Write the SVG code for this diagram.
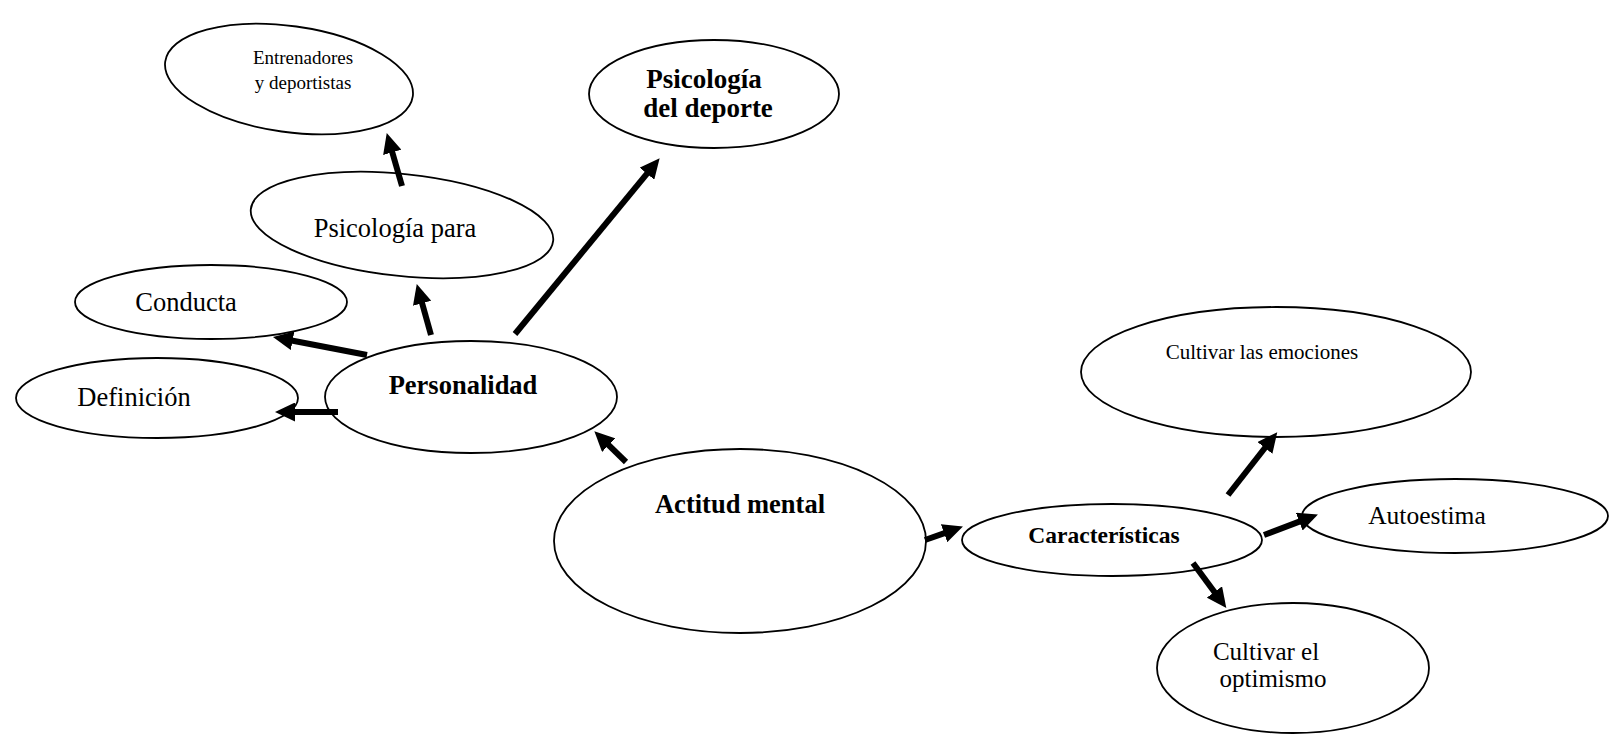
<svg xmlns="http://www.w3.org/2000/svg" width="1613" height="734" viewBox="0 0 1613 734">
  <style>
    .node ellipse { fill: #ffffff; stroke: #000000; stroke-width: 1.8; }
    .node text { font-family: "Liberation Serif", "Times New Roman", serif; fill: #000000; text-anchor: middle; }
    .reg { font-size: 26.5px; }
    .bold { font-size: 26.5px; font-weight: bold; }
    .edge { stroke: #000000; stroke-width: 6; fill: none; marker-end: url(#head); }
  </style>
  <defs>
    <marker id="head" markerUnits="userSpaceOnUse" markerWidth="20" markerHeight="19" refX="5" refY="9.5" orient="auto">
      <path d="M0,0 L20,9.5 L0,19 Z" fill="#000000"/>
    </marker>
  </defs>
  <rect width="1613" height="734" fill="#ffffff"/>

  <g id="n-entrenadores" class="node">
    <ellipse cx="289" cy="79" rx="125" ry="53" transform="rotate(8 289 79)"/>
    <text x="303" y="64" style="font-size:19px">Entrenadores</text>
    <text x="303" y="89" style="font-size:19px">y deportistas</text>
  </g>

  <g id="n-psicologia-deporte" class="node">
    <ellipse cx="714" cy="94" rx="125" ry="54"/>
    <text class="bold" x="704" y="88" style="font-size:27px">Psicología</text>
    <text class="bold" x="708" y="117" style="font-size:27px">del deporte</text>
  </g>

  <g id="n-psicologia-para" class="node">
    <ellipse cx="402" cy="225" rx="152" ry="51" transform="rotate(6 402 225)"/>
    <text class="reg" x="395" y="237">Psicología para</text>
  </g>

  <g id="n-conducta" class="node">
    <ellipse cx="211" cy="302" rx="136" ry="37"/>
    <text class="reg" x="186" y="311">Conducta</text>
  </g>

  <g id="n-definicion" class="node">
    <ellipse cx="157" cy="398" rx="141" ry="40"/>
    <text class="reg" x="134" y="406">Definición</text>
  </g>

  <g id="n-personalidad" class="node">
    <ellipse cx="471" cy="397" rx="146" ry="56"/>
    <text class="bold" x="463" y="394">Personalidad</text>
  </g>

  <g id="n-actitud" class="node">
    <ellipse cx="740" cy="541" rx="186" ry="92"/>
    <text class="bold" x="740" y="513">Actitud mental</text>
  </g>

  <g id="n-caracteristicas" class="node">
    <ellipse cx="1112" cy="540" rx="150" ry="36"/>
    <text class="bold" x="1104" y="543" style="font-size:23.5px">Características</text>
  </g>

  <g id="n-emociones" class="node">
    <ellipse cx="1276" cy="372" rx="195" ry="65"/>
    <text x="1262" y="359" style="font-size:21px">Cultivar las emociones</text>
  </g>

  <g id="n-autoestima" class="node">
    <ellipse cx="1455" cy="516" rx="153" ry="37"/>
    <text x="1427" y="524" style="font-size:25.5px">Autoestima</text>
  </g>

  <g id="n-optimismo" class="node">
    <ellipse cx="1293" cy="668" rx="136" ry="65"/>
    <text x="1266" y="660" style="font-size:25px">Cultivar el</text>
    <text x="1273" y="687" style="font-size:25px">optimismo</text>
  </g>

  <g id="connectors">
    <line class="edge" x1="402" y1="186" x2="390.9" y2="147.5"/>
    <line class="edge" x1="431" y1="335" x2="420.8" y2="298.5"/>
    <line class="edge" x1="367" y1="355" x2="287.7" y2="339.8"/>
    <line class="edge" x1="338" y1="412" x2="290" y2="412"/>
    <line class="edge" x1="515" y1="334" x2="650.1" y2="169.8"/>
    <line class="edge" x1="626" y1="462" x2="605.1" y2="441.7"/>
    <line class="edge" x1="925" y1="540" x2="948.8" y2="531.6"/>
    <line class="edge" x1="1228" y1="495" x2="1268" y2="444"/>
    <line class="edge" x1="1264" y1="535" x2="1303.9" y2="519.9"/>
    <line class="edge" x1="1193" y1="563" x2="1217.4" y2="596"/>
  </g>
</svg>
